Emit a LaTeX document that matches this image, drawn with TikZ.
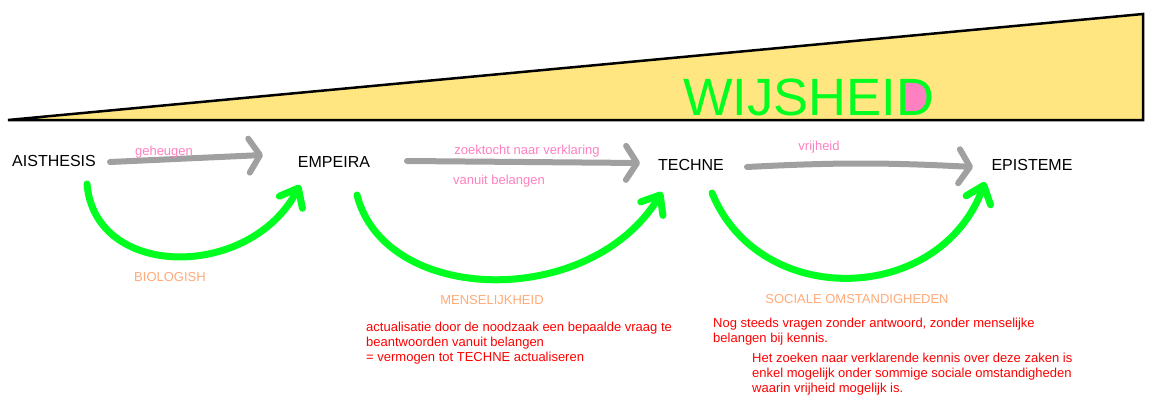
\documentclass[tikz,border=0pt]{standalone}
\usepackage{fontspec}
\setmainfont{Liberation Sans}
\usetikzlibrary{arrows.meta}
\definecolor{wedge}{RGB}{255,230,128}
\definecolor{pen}{RGB}{160,160,160}
\definecolor{leaf}{RGB}{0,255,32}
\definecolor{rose}{RGB}{255,128,192}
\definecolor{peach}{RGB}{255,170,120}
\tikzset{
	stage/.style={inner sep=0pt, font=\fontsize{16}{19}\selectfont},
	small/.style={inner sep=0pt, font=\fontsize{13}{15}\selectfont},
	note/.style={small, text=red, align=left, anchor=north west},
	grayarrow/.style={pen, line width=6pt, line cap=round, -{Straight Barb[length=11pt,width=34pt,round]}},
	greenarrow/.style={leaf, line width=7pt, line cap=round, -{Straight Barb[length=16pt,width=26pt,round]}},
}

\begin{document}
\begin{tikzpicture}[x=1pt, y=-1pt]
	\useasboundingbox (0,0) rectangle (1155,401);
	% wedge
	\draw[fill=wedge, line width=2.5pt] (8,120) -- (1143,14) -- (1143,120) -- cycle;
	\fill[rose] (902,81) -- (914,81) .. controls (932,81) and (932,114) .. (914,114) -- (902,114) -- cycle;
	\node[inner sep=0pt, anchor=base west, text=leaf, font=\fontsize{52.5}{60}\selectfont] (wijs) at (683,116) {WIJSHEID};

	\node[stage] (ais) at (54,161) {AISTHESIS};
	\node[stage] (emp) at (334,162) {EMPEIRA};
	\node[stage] (tec) at (691,165) {TECHNE};
	\node[stage] (epi) at (1032,165) {EPISTEME};

	\draw[grayarrow] ([shift={(56,1)}]ais.center) -- ([shift={(-71,-7)}]emp.center);
	\draw[grayarrow] ([shift={(73,-1)}]emp.center) -- ([shift={(-51,-2)}]tec.center);
	\draw[grayarrow] ([shift={(56,2)}]tec.center) to[bend left=3] ([shift={(-59,2)}]epi.center);

	\draw[greenarrow] ([shift={(33,23)}]ais.center) .. controls +(8,96) and +(-50,95) .. ([shift={(-34,23)}]emp.center);
	\draw[greenarrow] ([shift={(23,33)}]emp.center) .. controls +(28,110) and +(-72,118) .. ([shift={(-29,27)}]tec.center);
	\draw[greenarrow] ([shift={(21,28)}]tec.center) .. controls +(48,117) and +(-45,123) .. ([shift={(-47,17)}]epi.center);

	\node[small, text=rose] (geh) at (164,152) {geheugen};
	\node[small, text=rose] (zoek) at (527,151) {zoektocht naar verklaring};
	\node[small, text=rose] (belang) at (499,181) {vanuit belangen};
	\node[small, text=rose] (vrij) at (819,147) {vrijheid};

	\node[small, text=peach] (bio) at (170,277) {BIOLOGISH};
	\node[small, text=peach] (mens) at (492,300) {MENSELIJKHEID};
	\node[small, text=peach] (soc) at (857,299) {SOCIALE OMSTANDIGHEDEN};

	\node[note] (nota) at (366,321.5) {actualisatie door de noodzaak een bepaalde vraag te\\beantwoorden vanuit belangen\\= vermogen tot TECHNE actualiseren};
	\node[note] (notb) at (713,317.5) {Nog steeds vragen zonder antwoord, zonder menselijke\\belangen bij kennis.};
	\node[note] (notc) at (752,352.5) {Het zoeken naar verklarende kennis over deze zaken is\\enkel mogelijk onder sommige sociale omstandigheden\\waarin vrijheid mogelijk is.};
\end{tikzpicture}
\end{document}
